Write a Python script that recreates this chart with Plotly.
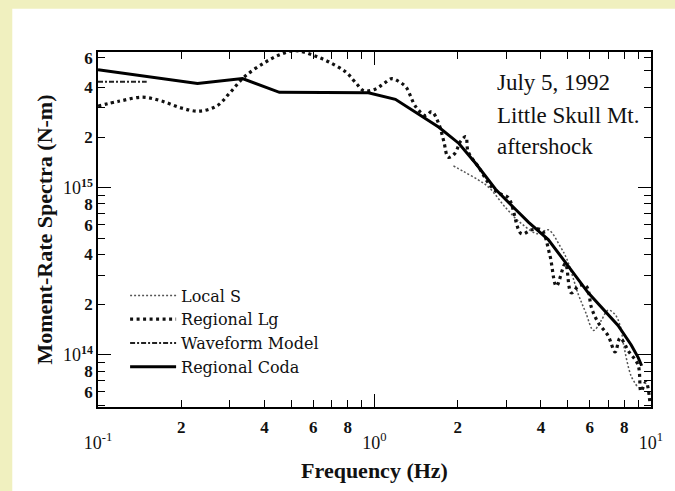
import plotly.graph_objects as go

# ---- data ----
freq_coda = [0.1, 0.229, 0.333, 0.453, 0.95, 1.19, 1.71, 2.02, 2.32, 2.74, 3.24, 3.61, 4.25, 5.93, 7.6, 8.47, 9.0, 9.25]
m_coda = [5.08e15, 4.2e15, 4.5e15, 3.72e15, 3.7e15, 3.38e15, 2.3e15, 1.84e15, 1.4e15, 9.8e14, 7.4e14, 6.2e14, 4.9e14, 2.35e14, 1.5e14, 1.15e14, 9.6e13, 8.6e13]

freq_wave = [0.1, 0.15]
m_wave = [4.31e15, 4.31e15]

freq_lg = [0.10, 0.12, 0.145, 0.17, 0.2, 0.233, 0.27, 0.30, 0.338, 0.40, 0.46, 0.52, 0.60, 0.685, 0.79, 0.86,
           0.916, 1.01, 1.08, 1.157, 1.23, 1.30, 1.41, 1.53, 1.61, 1.71, 1.78, 1.85, 1.95, 2.05, 2.14, 2.18,
           2.4, 2.6, 2.8, 3.05, 3.4, 3.7, 4.01, 4.3, 4.55, 4.9, 5.15, 5.5, 5.83, 6.1, 6.44, 7.0, 7.42, 7.73,
           8.3, 8.98, 9.2, 9.59, 9.92]
m_lg = [3.08e15, 3.3e15, 3.48e15, 3.3e15, 3.0e15, 2.87e15, 3.1e15, 3.7e15, 4.6e15, 5.6e15, 6.3e15, 6.6e15,
        6.2e15, 5.65e15, 4.9e15, 4.2e15, 3.8e15, 3.9e15, 4.2e15, 4.5e15, 4.3e15, 4.0e15, 3.05e15, 2.7e15,
        2.85e15, 2.4e15, 1.9e15, 1.52e15, 1.6e15, 1.9e15, 2.02e15, 1.65e15, 1.3e15, 1.05e15, 9.3e14, 8.7e14,
        5.3e14, 5.6e14, 5.6e14, 4.0e14, 2.58e14, 3.52e14, 2.35e14, 2.6e14, 2.58e14, 1.9e14, 1.56e14, 1.3e14,
        1.04e14, 1.26e14, 1.05e14, 8.7e13, 6.06e13, 6.9e13, 5.1e13]

freq_local = [1.93, 2.1, 2.38, 2.6, 2.98, 3.4, 3.9, 4.25, 4.7, 4.97, 5.46, 5.8, 6.2, 6.6, 7.0, 7.4, 7.73, 8.0, 8.47, 8.9]
m_local = [1.35e15, 1.25e15, 1.11e15, 1.0e15, 7.6e14, 6.1e14, 5.3e14, 5.6e14, 4.44e14, 3.72e14, 2.3e14, 1.8e14,
           1.4e14, 1.6e14, 1.85e14, 1.75e14, 1.5e14, 1.1e14, 7.5e13, 6.5e13]

x_major_vals = [0.2, 0.4, 0.6, 0.8, 2, 4, 6, 8]
x_major_text = ["2", "4", "6", "8", "2", "4", "6", "8"]
x_minor_vals = [0.3, 0.5, 0.7, 0.9, 3, 5, 7, 9]
x_decade_vals = [0.1, 1, 10]
x_decade_text = ["10<sup>-1</sup>", "10<sup>0</sup>", "10<sup>1</sup>"]

y_major_vals = [6e13, 8e13, 1e14, 2e14, 4e14, 6e14, 8e14, 1e15, 2e15, 4e15, 6e15]
y_major_text = ["<b>6</b>", "<b>8</b>",
                "<span style='font-size:18px'>10</span><sup><b>14</b></sup>",
                "<b>2</b>", "<b>4</b>", "<b>6</b>", "<b>8</b>",
                "<span style='font-size:18px'>10</span><sup><b>15</b></sup>",
                "<b>2</b>", "<b>4</b>", "<b>6</b>"]
y_minor_vals = [5e13, 7e13, 9e13, 3e14, 5e14, 7e14, 9e14, 3e15, 5e15]
y_decade_vals = [1e14, 1e15]

notes = ["July 5, 1992", "Little Skull Mt.", "aftershock"]

# ---- figure ----
fig = go.Figure()
fig.add_trace(go.Scatter(x=freq_local, y=m_local, mode="lines", name="Local S",
                         line=dict(color="#555555", width=1.5, dash="2px,2px", shape="spline")))
fig.add_trace(go.Scatter(x=freq_lg, y=m_lg, mode="lines", name="Regional Lg",
                         line=dict(color="#111111", width=3.2, dash="3px,3.5px", shape="spline")))
fig.add_trace(go.Scatter(x=freq_wave, y=m_wave, mode="lines", name="Waveform Model",
                         line=dict(color="#222222", width=2, dash="5px,2px,2px,2px")))
fig.add_trace(go.Scatter(x=freq_coda, y=m_coda, mode="lines", name="Regional Coda",
                         line=dict(color="#000000", width=3)))
# invisible helper so the overlay axes (long decade ticks) are drawn
fig.add_trace(go.Scatter(x=[0.1], y=[1e15], xaxis="x2", yaxis="y2", mode="markers",
                         marker=dict(opacity=0), showlegend=False, hoverinfo="skip"))

xr = [-1, 1]
yr = [13.688, 15.812]
xtickfont = dict(family="Liberation Serif", size=17, color="#111111", weight="bold")
ytickfont = dict(family="Liberation Serif", size=17, color="#111111")

fig.update_layout(
    width=675, height=491,
    margin=dict(l=98, r=22, t=52, b=78),
    paper_bgcolor="white",
    plot_bgcolor="white",
    showlegend=True,
    legend=dict(x=0.049, y=0.362, xanchor="left", yanchor="top", bgcolor="rgba(0,0,0,0)",
                font=dict(family="DejaVu Serif", size=16, color="#111111"),
                tracegroupgap=0, itemwidth=46),
    xaxis=dict(type="log", range=xr, showline=True, linecolor="black", linewidth=1.5, mirror="ticks",
               ticks="inside", ticklen=7, tickwidth=1.2, tickcolor="black",
               tickmode="array", tickvals=x_major_vals, ticktext=x_major_text, tickfont=xtickfont,
               ticklabelstandoff=4,
               minor=dict(tickmode="array", tickvals=x_minor_vals, ticks="inside", ticklen=7,
                          tickwidth=1.2, tickcolor="black", showgrid=False),
               showgrid=False, zeroline=False,
               title=dict(text="<b>Frequency (Hz)</b>", standoff=26,
                          font=dict(family="Liberation Serif", size=22, color="#111111"))),
    xaxis2=dict(type="log", range=xr, overlaying="x", anchor="y", side="bottom", showline=False,
                mirror="ticks", ticks="inside", ticklen=13, tickwidth=1.2, tickcolor="black",
                tickmode="array", tickvals=x_decade_vals, ticktext=x_decade_text,
                tickfont=dict(family="Liberation Serif", size=18, color="#111111"),
                ticklabelstandoff=23, ticklabeloverflow="allow", showgrid=False, zeroline=False),
    yaxis=dict(type="log", range=yr, showline=True, linecolor="black", linewidth=1.5, mirror="ticks",
               ticks="inside", ticklen=7, tickwidth=1.2, tickcolor="black",
               tickmode="array", tickvals=y_major_vals, ticktext=y_major_text, tickfont=ytickfont,
               minor=dict(tickmode="array", tickvals=y_minor_vals, ticks="inside", ticklen=7,
                          tickwidth=1.2, tickcolor="black", showgrid=False),
               showgrid=False, zeroline=False,
               title=dict(text="<b>Moment-Rate Spectra (N-m)</b>", standoff=4,
                          font=dict(family="Liberation Serif", size=22, color="#111111"))),
    yaxis2=dict(type="log", range=yr, overlaying="y", anchor="x", side="left", showline=False,
                mirror="ticks", ticks="inside", ticklen=13, tickwidth=1.2, tickcolor="black",
                tickmode="array", tickvals=y_decade_vals, showticklabels=False,
                showgrid=False, zeroline=False),
    shapes=[
        # yellow frame strips (top and left) of the scanned page
        dict(type="rect", xref="paper", yref="paper", x0=-0.5, x1=1.5, y0=1.1219, y1=1.5,
             fillcolor="#f0f0bf", line=dict(width=0), layer="below"),
        dict(type="rect", xref="paper", yref="paper", x0=-0.5, x1=-0.155, y0=-0.5, y1=1.5,
             fillcolor="#f0f0bf", line=dict(width=0), layer="below"),
    ],
)

note_y = [0.915, 0.822, 0.733]
for txt, yy in zip(notes, note_y):
    fig.add_annotation(text=txt, xref="paper", yref="paper", x=0.718, y=yy, xanchor="left",
                       yanchor="middle", showarrow=False,
                       font=dict(family="Liberation Serif", size=23, color="#111111"))

fig.write_html("out.html", config={"displayModeBar": False},
               post_script="document.body.style.margin='0';document.body.style.overflow='hidden';")
